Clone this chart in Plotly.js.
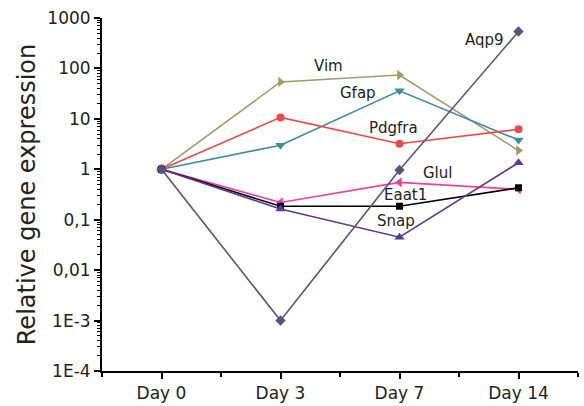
<!DOCTYPE html>
<html>
<head>
<meta charset="utf-8">
<script src="https://cdn.plot.ly/plotly-3.0.1.min.js"></script>
<style>html,body{margin:0;padding:0;background:#fff;}#chart{width:584px;height:406px;}</style>
</head>
<body>
<div id="chart"></div>
<script>
const days = ["Day 0", "Day 3", "Day 7", "Day 14"];
const vim    = [1, 54, 74, 2.35];
const gfap   = [1, 3.0, 36, 3.8];
const pdgfra = [1, 10.7, 3.2, 6.2];
const aqp9   = [1, 0.001, 0.97, 540];
const glul   = [1, 0.22, 0.55, 0.40];
const eaat1  = [1, 0.185, 0.185, 0.43];
const snap   = [1, 0.163, 0.045, 1.35];
const yTickVals = [1e-4, 1e-3, 0.01, 0.1, 1, 10, 100, 1000];
const yTickText = ["1E-4", "1E-3", "0,01", "0,1", "1", "10", "100", "1000"];

const xIdx = days.map((d, i) => i);

function tr(name, y, color, symbol, size) {
  return {
    x: xIdx, y: y, name: name, type: "scatter", mode: "lines+markers",
    line: {color: color, width: 1.6},
    marker: {color: color, symbol: symbol, size: size || 8}
  };
}

const data = [
  tr("Vim", vim, "#a09c62", "triangle-right", 9),
  tr("Gfap", gfap, "#3a8ca8", "triangle-down", 9),
  tr("Pdgfra", pdgfra, "#f04848", "circle", 8),
  tr("Glul", glul, "#f0409a", "triangle-left", 9),
  tr("Eaat1", eaat1, "#000000", "square", 7),
  tr("Snap", snap, "#5a3a9a", "triangle-up", 9),
  tr("Aqp9", aqp9, "#5c5080", "diamond", 8)
];

const labels = [
  {t: "Vim", x: 1.407, y: 2.04},
  {t: "Gfap", x: 1.65, y: 1.51},
  {t: "Pdgfra", x: 1.946, y: 0.825},
  {t: "Aqp9", x: 2.717, y: 2.564},
  {t: "Glul", x: 2.321, y: -0.067},
  {t: "Eaat1", x: 2.051, y: -0.51},
  {t: "Snap", x: 1.97, y: -1.025}
];

const FONT = "DejaVu Sans, Arial, sans-serif";
const layout = {
  width: 584, height: 406,
  margin: {l: 102, r: 6, t: 18, b: 35},
  paper_bgcolor: "#fff", plot_bgcolor: "#fff",
  showlegend: false,
  font: {family: FONT, color: "#222"},
  xaxis: {
    range: [-0.5, 3.5], tickmode: "array", tickvals: xIdx, ticktext: days,
    showgrid: false, zeroline: false, showline: true, linecolor: "#000", linewidth: 2,
    ticks: "outside", ticklen: 6, tickwidth: 2, tickcolor: "#000",
    tickfont: {family: FONT, size: 17, color: "#222"},
    minor: {ticks: "outside", ticklen: 4, tickwidth: 2, tickcolor: "#000", dtick: 0.5, tick0: -0.5, showgrid: false}
  },
  yaxis: {
    type: "log", range: [-4, 3], tickmode: "array", tickvals: yTickVals, ticktext: yTickText,
    showgrid: false, zeroline: false, showline: true, linecolor: "#000", linewidth: 2,
    ticks: "outside", ticklen: 6, tickwidth: 2, tickcolor: "#000",
    tickfont: {family: FONT, size: 17, color: "#222"},
    minor: {ticks: "outside", ticklen: 3, tickwidth: 1, tickcolor: "#000", dtick: "D1", showgrid: false},
    title: {text: "Relative gene expression", font: {family: FONT, size: 24, color: "#222"}, standoff: 5}
  },
  annotations: labels.map(l => ({
    x: l.x, y: l.y, xref: "x", yref: "y", text: l.t, showarrow: false,
    font: {family: FONT, size: 15, color: "#222"}, xanchor: "center", yanchor: "middle"
  }))
};

Plotly.newPlot("chart", data, layout, {displayModeBar: false, staticPlot: true});
</script>
</body>
</html>
